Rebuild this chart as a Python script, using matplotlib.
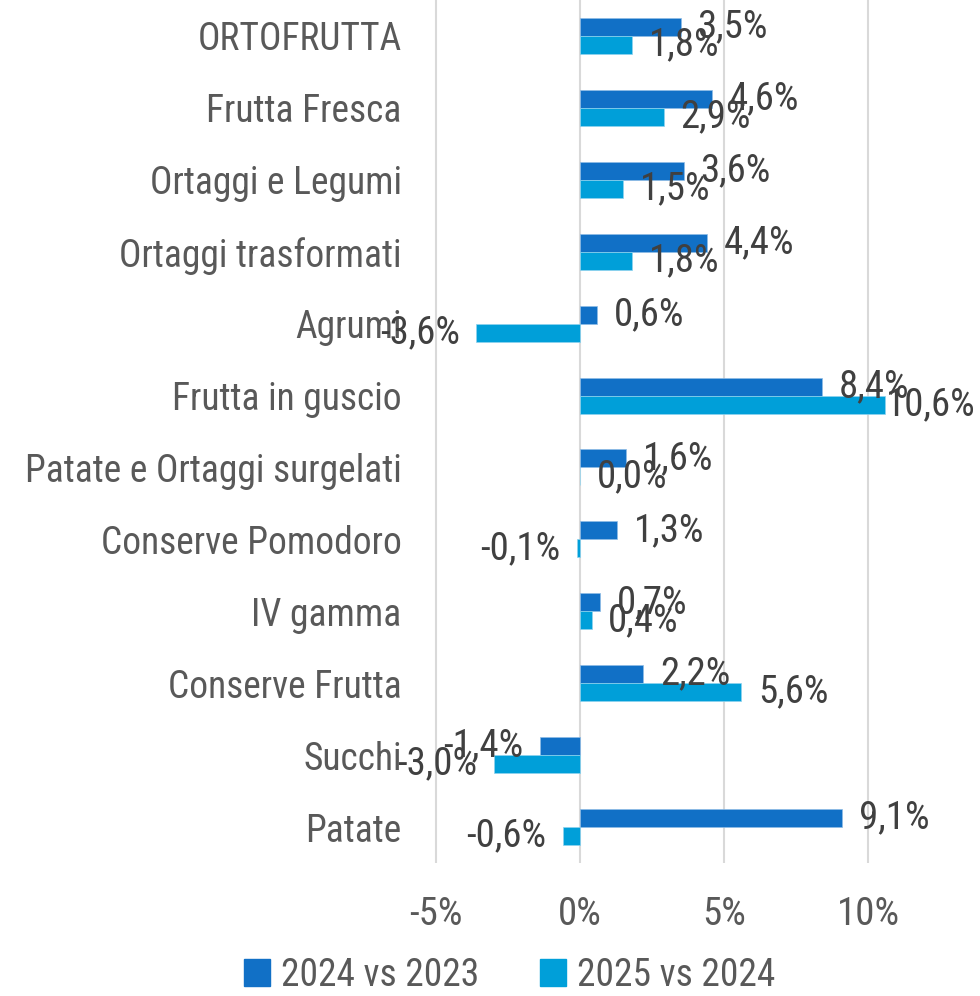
import numpy as np
import matplotlib
matplotlib.use('Agg')
import matplotlib.pyplot as plt
from matplotlib.patches import Patch

categories = ['ORTOFRUTTA', 'Frutta Fresca', 'Ortaggi e Legumi', 'Ortaggi trasformati',
              'Agrumi', 'Frutta in guscio', 'Patate e Ortaggi surgelati',
              'Conserve Pomodoro', 'IV gamma', 'Conserve Frutta', 'Succhi', 'Patate']
v_2024 = [3.5, 4.6, 3.6, 4.4, 0.6, 8.4, 1.6, 1.3, 0.7, 2.2, -1.4, 9.1]
v_2025 = [1.8, 2.9, 1.5, 1.8, -3.6, 10.6, 0.0, -0.1, 0.4, 5.6, -3.0, -0.6]
series_names = ['2024 vs 2023', '2025 vs 2024']
ticks = [-5, 0, 5, 10]

c_dark = '#1170C6'
c_light = '#009FD9'
plt.rcParams['font.family'] = ['Roboto Condensed', 'DejaVu Sans']

fig = plt.figure(figsize=(9.8, 9.96), dpi=100)
ax = fig.add_axes([0.4155, 0.1335, 0.529, 0.8665])

y = np.arange(len(categories))
h = 0.25
ax.barh(y - h / 2, v_2024, height=h, color=c_dark, edgecolor='#8fbce6', linewidth=0.5, zorder=3)
ax.barh(y + h / 2, v_2025, height=h, color=c_light, edgecolor='#8fd3ee', linewidth=0.5, zorder=3)

def fmt(v):
    return f'{v:.1f}%'.replace('.', ',')

labels = []
for vals, off in [(v_2024, -h / 2), (v_2025, h / 2)]:
    for i, v in enumerate(vals):
        t = ax.annotate(fmt(v), (v, i + off), xytext=(-12 if v < 0 else 12, 0),
                        textcoords='offset points', va='center',
                        ha='right' if v < 0 else 'left', fontsize=28,
                        color='#404040', annotation_clip=False, zorder=4)
        labels.append(t)

ax.set_xlim(-6, 12)
ax.set_ylim(len(categories) - 0.5, -0.5)
ax.set_xticks(ticks)
ax.set_xticklabels([f'{t}%' for t in ticks], fontsize=28, color='#595959')
ax.set_yticks(y)
ax.set_yticklabels(categories, fontsize=27, color='#595959')
ax.tick_params(axis='both', length=0)
ax.tick_params(axis='x', pad=24)
ax.tick_params(axis='y', pad=4)
ax.grid(axis='x', color='#d9d9d9', linewidth=1.5, zorder=0)
for s in ax.spines.values():
    s.set_visible(False)

handles = [Patch(color=c_dark), Patch(color=c_light)]
fig.legend(handles, series_names, loc='center', bbox_to_anchor=(0.52, 0.021), ncol=2,
           frameon=False, fontsize=27, labelcolor='#595959', handlelength=0.7,
           handleheight=0.7, handletextpad=0.3, columnspacing=1.6)

# keep labels inside the figure, like Excel does at the chart edge
fig.canvas.draw()
W = fig.bbox.width
for t in labels:
    bb = t.get_window_extent()
    if bb.x1 > W - 4:
        x0, y0 = t.xyann
        t.xyann = (x0 - (bb.x1 - W + 4) * 72 / fig.dpi, y0)

fig.savefig('out.png', dpi=100)
